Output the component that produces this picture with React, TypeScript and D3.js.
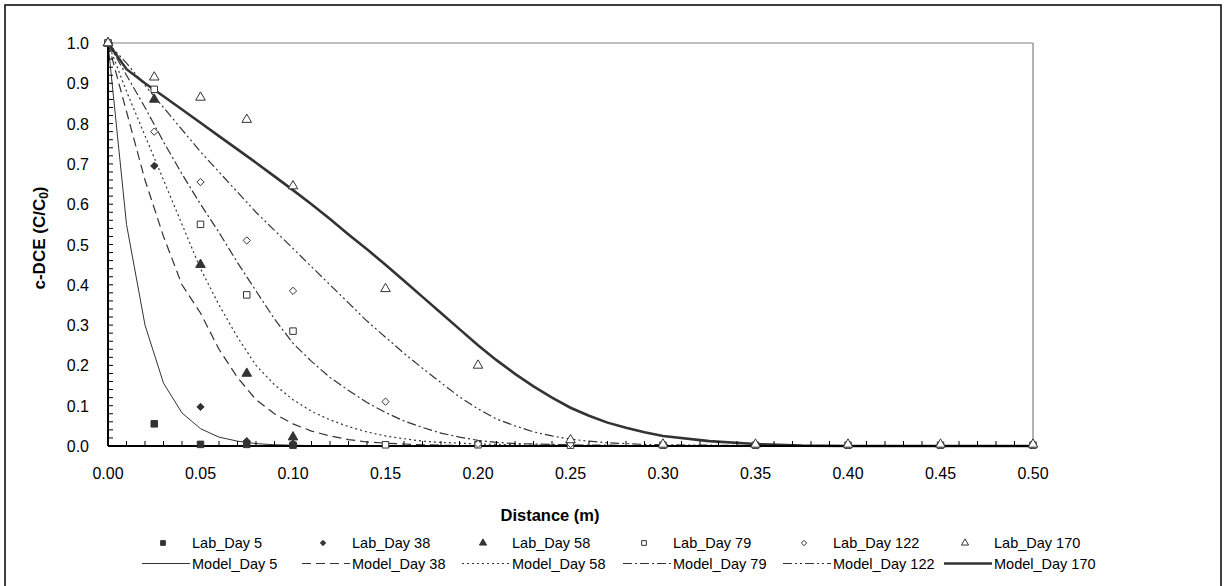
import React from "react";
import * as d3 from "d3";

// lab measurements
const labXShort = [0, 0.025, 0.05, 0.075, 0.1];
const labXLong = [0, 0.025, 0.05, 0.075, 0.1, 0.15, 0.2, 0.25, 0.3, 0.35, 0.4, 0.45, 0.5];
const labDay5 = [1.0, 0.055, 0.004, 0.004, 0.002];
const labDay38 = [1.0, 0.695, 0.097, 0.012, 0.006];
const labDay58 = [1.0, 0.86, 0.45, 0.18, 0.022];
const labDay79 = [1.0, 0.885, 0.55, 0.375, 0.285, 0.003, 0.003, 0.002, 0.002, 0.002, 0.002, 0.002, 0.002];
const labDay122 = [1.0, 0.78, 0.655, 0.51, 0.385, 0.11, 0.005, 0.005, 0.003, 0.003, 0.003, 0.003, 0.003];
const labDay170 = [1.0, 0.915, 0.865, 0.81, 0.645, 0.39, 0.2, 0.015, 0.004, 0.004, 0.004, 0.004, 0.004];

// model output
const modelX = [
  0, 0.01, 0.02, 0.03, 0.04, 0.05, 0.06, 0.07, 0.08, 0.09, 0.1, 0.11, 0.12, 0.13, 0.14, 0.15,
  0.16, 0.17, 0.18, 0.19, 0.2, 0.21, 0.22, 0.23, 0.24, 0.25, 0.26, 0.27, 0.28, 0.29, 0.3,
  0.325, 0.35, 0.375, 0.4, 0.45, 0.5,
];
const modelDay5 = [
  1, 0.55, 0.3, 0.156, 0.082, 0.043, 0.022, 0.012, 0.006, 0.003, 0.002, 0.001, 0.001, 0, 0, 0,
  0, 0, 0, 0, 0, 0, 0, 0, 0, 0, 0, 0, 0, 0, 0, 0, 0, 0, 0, 0, 0,
];
const modelDay38 = [
  1, 0.83, 0.66, 0.52, 0.4, 0.33, 0.24, 0.17, 0.115, 0.08, 0.055, 0.037, 0.025, 0.016, 0.01, 0.007,
  0.005, 0.003, 0.002, 0.001, 0.001, 0, 0, 0, 0, 0, 0, 0, 0, 0, 0, 0, 0, 0, 0, 0, 0,
];
const modelDay58 = [
  1, 0.88, 0.77, 0.66, 0.55, 0.44, 0.35, 0.27, 0.2, 0.152, 0.115, 0.086, 0.065, 0.048, 0.035, 0.025,
  0.018, 0.012, 0.009, 0.007, 0.005, 0.004, 0.003, 0.002, 0.002, 0.001, 0.001, 0.001, 0, 0, 0,
  0, 0, 0, 0, 0, 0,
];
const modelDay79 = [
  1, 0.92, 0.84, 0.755, 0.675, 0.6, 0.53, 0.455, 0.385, 0.315, 0.255, 0.21, 0.17, 0.138, 0.108, 0.083,
  0.062, 0.046, 0.032, 0.022, 0.014, 0.009, 0.006, 0.005, 0.004, 0.003, 0.002, 0.002, 0.001, 0.001, 0.001,
  0, 0, 0, 0, 0, 0,
];
const modelDay122 = [
  1, 0.95, 0.895, 0.84, 0.785, 0.73, 0.68, 0.63, 0.58, 0.535, 0.49, 0.445, 0.4, 0.355, 0.31, 0.27,
  0.23, 0.193, 0.157, 0.122, 0.092, 0.067, 0.05, 0.035, 0.025, 0.017, 0.012, 0.008, 0.006, 0.004, 0.003,
  0.002, 0.001, 0.001, 0, 0, 0,
];
const modelDay170 = [
  1, 0.935, 0.9, 0.868, 0.835, 0.802, 0.769, 0.736, 0.703, 0.669, 0.635, 0.6, 0.563, 0.525, 0.488, 0.45,
  0.41, 0.37, 0.33, 0.29, 0.25, 0.213, 0.179, 0.148, 0.12, 0.095, 0.075, 0.058, 0.045, 0.034, 0.025,
  0.012, 0.005, 0.001, 0, 0, 0,
];

const xTicks = [0, 0.05, 0.1, 0.15, 0.2, 0.25, 0.3, 0.35, 0.4, 0.45, 0.5];
const yTicks = [0, 0.1, 0.2, 0.3, 0.4, 0.5, 0.6, 0.7, 0.8, 0.9, 1.0];

const labSeries = [
  { name: "Lab_Day 5", xs: labXShort, ys: labDay5, shape: d3.symbolSquare, filled: true },
  { name: "Lab_Day 38", xs: labXShort, ys: labDay38, shape: d3.symbolDiamond2, filled: true },
  { name: "Lab_Day 58", xs: labXShort, ys: labDay58, shape: d3.symbolTriangle, filled: true },
  { name: "Lab_Day 79", xs: labXLong, ys: labDay79, shape: d3.symbolSquare, filled: false },
  { name: "Lab_Day 122", xs: labXLong, ys: labDay122, shape: d3.symbolDiamond2, filled: false },
  { name: "Lab_Day 170", xs: labXLong, ys: labDay170, shape: d3.symbolTriangle, filled: false },
];

const modelSeries = [
  { name: "Model_Day 5", ys: modelDay5, dash: "none", width: 1 },
  { name: "Model_Day 38", ys: modelDay38, dash: "9,5", width: 1.2 },
  { name: "Model_Day 58", ys: modelDay58, dash: "2,3", width: 1.2 },
  { name: "Model_Day 79", ys: modelDay79, dash: "9,3,2,3", width: 1.2 },
  { name: "Model_Day 122", ys: modelDay122, dash: "9,3,2,3,2,3", width: 1.2 },
  { name: "Model_Day 170", ys: modelDay170, dash: "none", width: 2.6 },
];

const W = 1225;
const H = 586;
const ink = "#333";
const font = "'Liberation Sans', Arial, sans-serif";

const App = () => {
  const x = d3.scaleLinear().domain([0, 0.5]).range([108, 1033]);
  const y = d3.scaleLinear().domain([0, 1]).range([446, 43]);

  const line = d3
    .line<number>()
    .x((_, i) => x(modelX[i]))
    .y((d) => y(d));

  const symbolSize = (shape: any) =>
    shape === d3.symbolSquare ? 42 : shape === d3.symbolDiamond2 ? 34 : 40;

  const xMinor = d3.range(0, 51).map((i) => i / 100);
  const yMinor = d3.range(0, 51).map((i) => i / 50);

  const legendCols = [192, 352, 512, 673, 833, 994];

  return (
    <svg
      width={W}
      height={H}
      style={{ position: "absolute", left: 0, top: 0, background: "#fff" }}
      fontFamily={font}
    >
      <rect x={5} y={5} width={1216} height={600} fill="#fff" stroke="#000" strokeWidth={1.5} />

      {/* plot area frame */}
      <line x1={x(0)} x2={x(0.5)} y1={y(1)} y2={y(1)} stroke="#808080" strokeWidth={1.2} />
      <line x1={x(0.5)} x2={x(0.5)} y1={y(1)} y2={y(0)} stroke="#808080" strokeWidth={1.2} />

      {/* model lines */}
      {modelSeries.map((s) => (
        <path
          key={s.name}
          d={line(s.ys) || ""}
          fill="none"
          stroke={ink}
          strokeWidth={s.width}
          strokeDasharray={s.dash}
        />
      ))}

      {/* axes */}
      <line x1={x(0)} x2={x(0.5)} y1={y(0)} y2={y(0)} stroke="#000" strokeWidth={2} />
      <line x1={x(0)} x2={x(0)} y1={y(0)} y2={y(1)} stroke="#000" strokeWidth={2} />
      {xMinor.map((t) => (
        <line key={"xm" + t} x1={x(t)} x2={x(t)} y1={y(0)} y2={y(0) - 5} stroke="#000" strokeWidth={1} />
      ))}
      {yMinor.map((t) => (
        <line key={"ym" + t} x1={x(0)} x2={x(0) + 5} y1={y(t)} y2={y(t)} stroke="#000" strokeWidth={1} />
      ))}
      {xTicks.map((t) => (
        <text key={"xt" + t} x={x(t)} y={479} fontSize={16} textAnchor="middle" fill="#000">
          {d3.format(".2f")(t)}
        </text>
      ))}
      {yTicks.map((t) => (
        <text key={"yt" + t} x={89} y={y(t) + 6} fontSize={16} textAnchor="end" fill="#000">
          {d3.format(".1f")(t)}
        </text>
      ))}

      {/* lab markers */}
      {labSeries.map((s) =>
        s.xs.map((xv, i) => (
          <path
            key={s.name + i}
            transform={`translate(${x(xv)},${y(s.ys[i])})`}
            d={d3.symbol().type(s.shape).size(symbolSize(s.shape))() || ""}
            fill={s.filled ? ink : "#fff"}
            stroke={ink}
            strokeWidth={1}
          />
        ))
      )}

      {/* titles */}
      <text x={550} y={521} fontSize={16.5} fontWeight="bold" textAnchor="middle" fill="#000">
        Distance (m)
      </text>
      <text
        transform="translate(45,238) rotate(-90)"
        fontSize={17}
        fontWeight="bold"
        textAnchor="middle"
        fill="#000"
      >
        c-DCE (C/C<tspan fontSize={12} dy={3}>0</tspan>
        <tspan dy={-3}>)</tspan>
      </text>

      {/* legend */}
      {labSeries.map((s, i) => (
        <g key={"ll" + s.name}>
          <path
            transform={`translate(${legendCols[i] - 29},${543})`}
            d={d3.symbol().type(s.shape).size(s.shape === d3.symbolDiamond2 ? 18 : 22)() || ""}
            fill={s.filled ? ink : "#fff"}
            stroke={ink}
            strokeWidth={1}
          />
          <text x={legendCols[i]} y={548} fontSize={14.5} fill="#000">
            {s.name}
          </text>
        </g>
      ))}
      {modelSeries.map((s, i) => (
        <g key={"lm" + s.name}>
          <line
            x1={legendCols[i] - 50}
            x2={legendCols[i] - 2}
            y1={563.5}
            y2={563.5}
            stroke={ink}
            strokeWidth={s.width}
            strokeDasharray={s.dash}
          />
          <text x={legendCols[i]} y={569} fontSize={14.5} fill="#000">
            {s.name}
          </text>
        </g>
      ))}
    </svg>
  );
};

export default App;
